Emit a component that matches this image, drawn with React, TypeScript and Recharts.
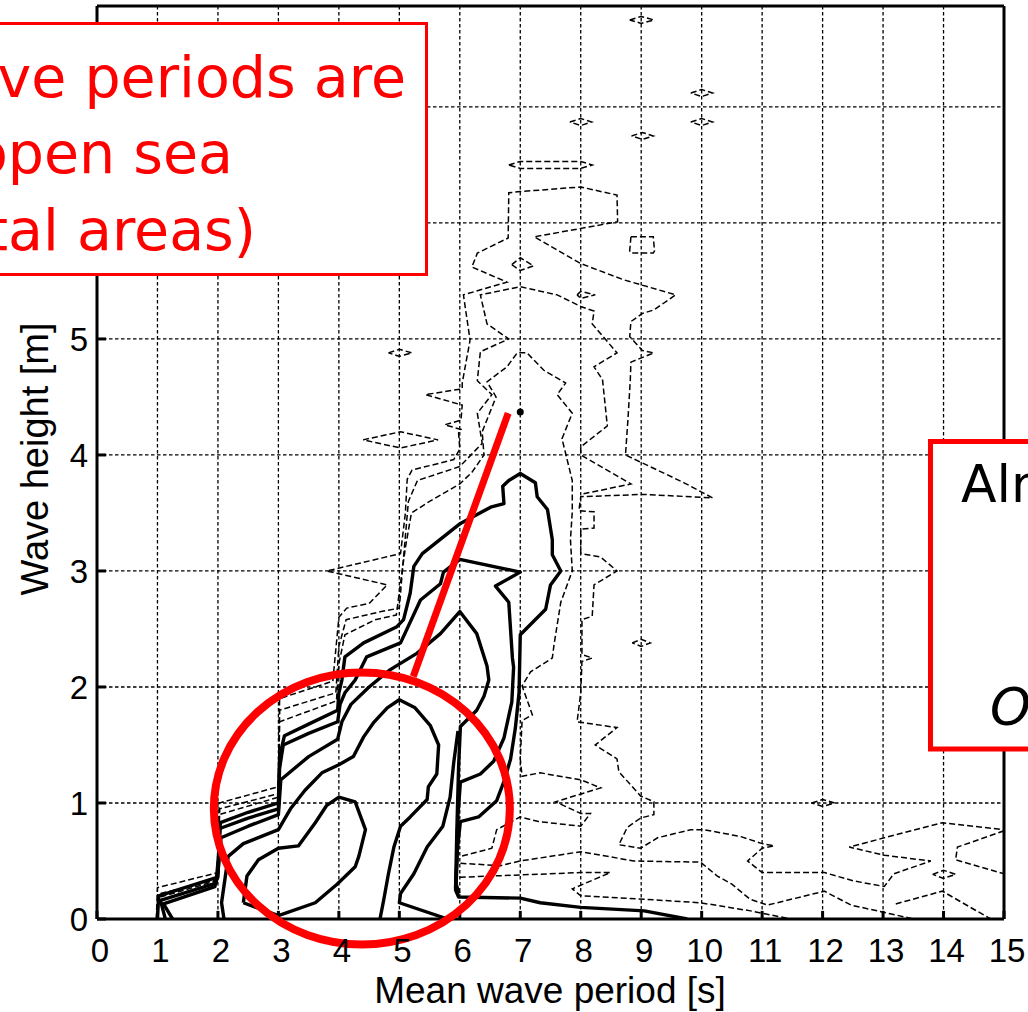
import React from "react";
import {
  LineChart,
  Line,
  XAxis,
  YAxis,
  CartesianGrid,
  ReferenceLine,
  ReferenceDot,
} from "recharts";

type Pt = [number, number];

// axis setup
const periodTicks = [0, 1, 2, 3, 4, 5, 6, 7, 8, 9, 10, 11, 12, 13, 14, 15];
const heightTicks = [0, 1, 2, 3, 4, 5, 6, 7];
const labelledHeights = [0, 1, 2, 3, 4, 5];
const periodMax = 15;
const heightMax = 7.87;

// solid contours (higher occurrence levels)
const solidCore: Pt[] = [
  [2.42, 0.14], [2.48, 0.37], [2.67, 0.51], [3.0, 0.61], [3.33, 0.63], [3.61, 0.83],
  [3.8, 0.98], [4.0, 1.05], [4.27, 1.01], [4.44, 0.77], [4.33, 0.54], [4.27, 0.45],
  [3.97, 0.3], [3.61, 0.14], [3.0, 0.03], [2.42, 0.14],
];
const solidPeak5: Pt[] = [
  [2.1, 0.0], [2.06, 0.14], [2.17, 0.54], [2.42, 0.65], [3.0, 0.77], [3.2, 0.95],
  [3.44, 1.11], [3.72, 1.26], [4.0, 1.33], [4.24, 1.4], [4.41, 1.57], [4.57, 1.69],
  [4.8, 1.82], [5.0, 1.89], [5.26, 1.82], [5.51, 1.67], [5.65, 1.5], [5.62, 1.25],
  [5.48, 1.14], [5.46, 1.03], [5.18, 0.88], [5.02, 0.8], [4.91, 0.62], [4.82, 0.39],
  [4.74, 0.16], [4.68, 0.0],
];
const solidBranch: Pt[] = [
  [5.8, 0.0], [5.0, 0.14], [5.02, 0.22], [5.24, 0.39], [5.46, 0.62], [5.72, 0.8],
  [5.84, 1.05], [5.9, 1.35], [5.97, 1.62],
];
const solidPeak6: Pt[] = [
  [1.25, 0.0], [1.1, 0.13], [1.95, 0.28], [2.0, 0.4], [2.05, 0.7], [2.5, 0.8],
  [3.0, 0.9], [3.04, 1.2], [3.5, 1.4], [3.98, 1.55], [4.05, 1.7], [4.2, 1.85],
  [4.5, 2.0], [4.85, 2.15], [5.29, 2.29], [5.68, 2.46], [6.0, 2.65], [6.28, 2.46],
  [6.45, 2.18], [6.48, 2.06], [6.4, 1.92], [6.28, 1.8], [6.01, 1.66], [5.98, 1.31],
  [5.95, 0.74], [5.93, 0.25], [5.98, 0.19], [7.0, 0.18], [7.33, 0.14], [8.0, 0.1],
  [9.05, 0.07], [9.76, 0.0],
];
const solidNotch: Pt[] = [
  [1.13, 0.0], [1.05, 0.16], [1.97, 0.31], [2.01, 0.55], [2.03, 0.78], [2.5, 0.87],
  [3.0, 0.95], [3.02, 1.3], [3.08, 1.5], [3.5, 1.6], [3.98, 1.7], [4.02, 1.85],
  [4.1, 1.95], [4.27, 2.06], [4.46, 2.26], [5.02, 2.38], [5.35, 2.75], [5.68, 2.89],
  [5.73, 2.99], [6.0, 3.1], [7.0, 2.99], [6.59, 2.87], [6.81, 2.73], [6.87, 2.25],
  [6.89, 2.17], [6.86, 1.87], [6.73, 1.56], [6.56, 1.36], [6.34, 1.25], [6.01, 1.18],
  [5.97, 0.9], [5.95, 0.5], [5.93, 0.27],
];
const solidOuter: Pt[] = [
  [1.0, 0.0], [1.02, 0.2], [2.0, 0.36], [2.02, 0.6], [2.04, 0.83], [2.5, 0.92],
  [3.0, 1.0], [3.02, 1.4], [3.1, 1.58], [3.5, 1.68], [3.98, 1.8], [4.0, 1.95],
  [4.05, 2.06], [4.1, 2.26], [4.41, 2.38], [4.96, 2.52], [5.07, 2.58], [5.18, 2.81],
  [5.24, 3.04], [5.38, 3.15], [6.01, 3.41], [6.51, 3.55], [6.73, 3.58], [6.71, 3.73],
  [6.81, 3.78], [7.0, 3.84], [7.25, 3.76], [7.28, 3.64], [7.45, 3.53], [7.53, 3.27],
  [7.53, 3.14], [7.67, 3.0], [7.5, 2.88], [7.42, 2.67], [7.0, 2.45], [6.98, 1.95],
  [6.92, 1.65], [6.84, 1.38], [6.74, 1.2], [6.61, 1.02], [6.31, 0.88], [6.01, 0.84],
  [5.96, 0.6], [5.94, 0.3], [5.99, 0.22],
];

// dashed contours (lower occurrence levels)
const dashedInner: Pt[] = [
  [1.05, 0.19], [1.98, 0.33], [2.02, 0.9], [3.0, 1.05], [3.02, 1.7], [3.96, 1.88],
  [4.0, 2.2], [4.1, 2.45], [4.6, 2.58], [4.95, 2.62], [5.02, 2.9], [5.1, 3.2],
  [5.2, 3.5], [5.5, 3.6], [6.0, 3.75], [6.2, 3.85], [6.4, 4.0], [6.37, 4.2],
  [6.6, 4.5], [6.45, 4.63], [6.78, 4.76], [6.95, 4.88], [7.11, 4.88], [7.39, 4.73],
  [7.75, 4.62], [7.61, 4.52], [7.86, 4.36], [7.69, 4.14], [7.86, 3.78], [7.86, 3.51],
  [7.83, 3.27], [7.86, 3.0], [7.67, 2.73], [7.56, 2.37], [7.53, 2.25], [7.17, 2.13],
  [7.03, 2.01], [7.2, 1.76], [7.03, 1.71], [7.0, 1.38], [7.03, 1.23], [7.33, 1.26],
  [8.0, 1.2], [8.33, 1.13], [7.58, 1.01], [8.0, 0.91], [8.16, 0.91], [8.0, 0.8],
  [7.3, 0.84], [7.0, 0.88], [6.61, 0.77], [6.53, 0.61], [6.01, 0.54],
];
const dashedMiddle: Pt[] = [
  [1.05, 0.22], [2.0, 0.34], [2.03, 0.95], [3.0, 1.08], [3.02, 1.8], [3.95, 1.95],
  [4.0, 2.35], [4.12, 2.58], [4.7, 2.65], [5.0, 2.68], [5.05, 3.0], [5.1, 3.3],
  [5.15, 3.6], [5.3, 3.78], [6.0, 3.9], [6.37, 4.1], [6.29, 4.36], [6.53, 4.52],
  [6.29, 4.64], [6.34, 4.89], [6.81, 5.0], [6.45, 5.13], [6.34, 5.38], [7.0, 5.45],
  [7.61, 5.38], [8.0, 5.28], [8.22, 5.24], [8.19, 5.13], [8.6, 4.88], [8.22, 4.76],
  [8.36, 4.65], [8.44, 4.25], [8.0, 4.07], [8.0, 4.0], [8.83, 3.75], [8.0, 3.66],
];
const dashedOuter: Pt[] = [
  [0.98, 0.0], [1.0, 0.27], [2.0, 0.4], [2.02, 1.0], [3.0, 1.14], [3.02, 1.9],
  [3.9, 2.05], [4.0, 2.6], [4.13, 2.68], [4.5, 2.72], [4.8, 2.88], [3.8, 3.0],
  [5.02, 3.15], [5.1, 3.5], [5.13, 3.79], [5.21, 3.87], [5.9, 3.96], [6.0, 4.05],
  [5.98, 4.19], [6.02, 4.22], [5.75, 4.26], [6.02, 4.3], [6.04, 4.43], [5.43, 4.52],
  [6.04, 4.57], [6.04, 4.62], [6.17, 4.99], [6.06, 5.38], [6.78, 5.49], [6.2, 5.62],
  [6.29, 5.74], [6.8, 5.87], [6.81, 6.26], [7.0, 6.27], [8.0, 6.31], [8.6, 6.24],
  [8.61, 6.01], [7.23, 5.88], [8.0, 5.65], [8.71, 5.51], [9.57, 5.38], [9.21, 5.25],
  [9.02, 5.22], [8.83, 5.15], [8.81, 5.02], [9.02, 4.9], [9.21, 4.88], [8.83, 4.8],
  [8.82, 4.65], [8.78, 4.3], [8.74, 4.0], [9.71, 3.76], [10.18, 3.63], [9.04, 3.66],
  [8.0, 3.64], [7.97, 3.52], [8.22, 3.51], [8.22, 3.37], [8.0, 3.36], [8.0, 3.15],
  [8.33, 3.12], [8.6, 3.0], [8.22, 2.88], [8.19, 2.61], [8.02, 2.58], [8.02, 2.28],
  [8.19, 2.25], [8.02, 2.22], [8.0, 1.95], [7.94, 1.7], [8.6, 1.65], [8.24, 1.5],
  [8.6, 1.38], [8.63, 1.27], [8.99, 1.06], [9.21, 1.01], [9.21, 0.9], [8.99, 0.87],
  [8.77, 0.79], [8.63, 0.64], [8.99, 0.61], [9.27, 0.7], [9.82, 0.77], [10.04, 0.77],
  [10.65, 0.71], [11.0, 0.65], [11.2, 0.63], [11.0, 0.61], [10.76, 0.5], [11.0, 0.4],
  [12.03, 0.4], [12.5, 0.33], [13.02, 0.28], [13.18, 0.39], [13.79, 0.5], [13.02, 0.55],
  [12.44, 0.62], [13.02, 0.7], [13.98, 0.83], [15.0, 0.77],
];
const dashedLow: Pt[] = [
  [6.01, 0.48], [6.67, 0.46], [7.0, 0.5], [8.0, 0.58], [8.88, 0.5], [9.98, 0.49],
  [10.26, 0.37], [10.5, 0.3], [10.8, 0.17], [11.09, 0.12], [12.03, 0.24], [12.47, 0.12],
  [13.51, 0.0],
];
const dashedFloor: Pt[] = [
  [6.0, 0.36], [7.0, 0.38], [8.0, 0.4], [8.49, 0.4], [7.86, 0.26], [8.0, 0.2],
  [9.05, 0.17], [9.98, 0.14], [10.81, 0.07], [11.47, 0.0],
];
const dashedEdge: Pt[] = [[15.0, 0.76], [14.23, 0.62], [14.2, 0.51], [15.0, 0.39]];
const dashedCorner: Pt[] = [[13.21, 0.13], [13.98, 0.24], [14.78, 0.0]];

// small closed dashed islands
const islands: Pt[][] = [
  [[8.81, 7.75], [9.0, 7.78], [9.21, 7.75], [9.0, 7.72], [8.81, 7.75]],
  [[9.82, 7.12], [10.0, 7.15], [10.18, 7.12], [10.0, 7.09], [9.82, 7.12]],
  [[9.82, 6.87], [10.0, 6.9], [10.18, 6.87], [10.0, 6.84], [9.82, 6.87]],
  [[7.82, 6.87], [8.0, 6.9], [8.18, 6.87], [8.0, 6.84], [7.82, 6.87]],
  [[8.84, 6.75], [9.02, 6.78], [9.2, 6.75], [9.02, 6.72], [8.84, 6.75]],
  [[6.81, 6.5], [7.0, 6.53], [8.0, 6.53], [8.19, 6.5], [8.0, 6.47], [7.0, 6.47], [6.81, 6.5]],
  [[8.83, 5.88], [9.2, 5.88], [9.22, 5.76], [9.2, 5.74], [8.83, 5.74], [8.81, 5.76], [8.83, 5.88]],
  [[6.86, 5.64], [7.0, 5.7], [7.22, 5.63], [7.0, 5.59], [6.86, 5.64]],
  [[7.94, 5.38], [8.0, 5.41], [8.24, 5.38], [8.0, 5.35], [7.94, 5.38]],
  [[4.82, 4.88], [5.0, 4.91], [5.21, 4.88], [5.0, 4.85], [4.82, 4.88]],
  [[4.4, 4.13], [5.02, 4.2], [5.64, 4.13], [5.02, 4.06], [4.4, 4.13]],
  [[8.85, 2.38], [9.0, 2.41], [9.15, 2.38], [9.0, 2.35], [8.85, 2.38]],
  [[11.82, 1.0], [12.0, 1.03], [12.2, 1.0], [12.0, 0.97], [11.82, 1.0]],
  [[13.82, 0.385], [14.0, 0.42], [14.2, 0.385], [14.0, 0.35], [13.82, 0.385]],
];

const solidContours = [solidCore, solidPeak5, solidBranch, solidPeak6, solidNotch, solidOuter];
const dashedContours = [dashedInner, dashedMiddle, dashedOuter, dashedLow, dashedFloor, dashedEdge, dashedCorner, ...islands];

// isolated peak cell and the highlighted region
const peakCell = { x: 7.0, y: 4.37 };
const focusCenter = { x: 4.38, y: 0.953 };
const pointerFrom = { x: 5.23, y: 2.09 };
const pointerTo = { x: 6.8, y: 4.36 };

const toRows = (pts: Pt[]) => pts.map(([x, y]) => ({ x, y }));

const axisFont = "'Liberation Sans', Arial, Helvetica, sans-serif";
const noteFont = "'DejaVu Sans', Verdana, sans-serif";

const XTick = (props: any) => {
  const { x, y, payload } = props;
  return (
    <text x={x + 3} y={y + 43} textAnchor="middle" fontFamily={axisFont} fontSize={33} fill="#000">
      {payload.value}
    </text>
  );
};

// heights 6 and 7 sit under the callout box, so only the lower ones get a label
const YTick = (props: any) => {
  const { x, y, payload } = props;
  if (!labelledHeights.includes(payload.value)) return <g />;
  return (
    <text x={x - 9} y={y + 12} textAnchor="end" fontFamily={axisFont} fontSize={33} fill="#000">
      {payload.value}
    </text>
  );
};

export default function App() {
  return (
    <div style={{ position: "relative", width: 1028, height: 1012, overflow: "hidden", background: "#fff" }}>
      <style>{`html,body{margin:0;padding:0;overflow:hidden;background:#fff}`}</style>
      <LineChart width={1028} height={1012} margin={{ top: 6, right: 24, bottom: 0, left: 0 }}>
        <CartesianGrid stroke="#000" strokeWidth={1.3} strokeDasharray="3.5 2.5" />
        <XAxis
          type="number"
          dataKey="x"
          domain={[0, periodMax]}
          ticks={periodTicks}
          interval={0}
          allowDataOverflow
          height={93}
          tickSize={0}
          tickMargin={0}
          tickLine={false}
          axisLine={{ stroke: "#000", strokeWidth: 3 }}
          tick={XTick}
        />
        <YAxis
          type="number"
          domain={[0, heightMax]}
          ticks={heightTicks}
          interval={0}
          allowDataOverflow
          width={97}
          tickSize={0}
          tickMargin={0}
          tickLine={false}
          axisLine={{ stroke: "#000", strokeWidth: 3 }}
          tick={YTick}
        />
        {dashedContours.map((pts, i) => (
          <Line
            key={`d${i}`}
            data={toRows(pts)}
            dataKey="y"
            type="linear"
            stroke="#000"
            strokeWidth={1.5}
            strokeDasharray="6 3"
            dot={false}
            activeDot={false}
            legendType="none"
            isAnimationActive={false}
          />
        ))}
        {solidContours.map((pts, i) => (
          <Line
            key={`s${i}`}
            data={toRows(pts)}
            dataKey="y"
            type="linear"
            stroke="#000"
            strokeWidth={3.4}
            strokeLinejoin="round"
            dot={false}
            activeDot={false}
            legendType="none"
            isAnimationActive={false}
          />
        ))}
        {periodTicks.map((t) => (
          <ReferenceLine key={`bx${t}`} segment={[{ x: t, y: 0 }, { x: t, y: 0.07 }]} stroke="#000" strokeWidth={3} />
        ))}
        {heightTicks.map((t) => (
          <ReferenceLine key={`ly${t}`} segment={[{ x: 0, y: t }, { x: 0.15, y: t }]} stroke="#000" strokeWidth={3} />
        ))}
        <ReferenceLine y={heightMax} stroke="#000" strokeWidth={3} />
        <ReferenceLine x={periodMax} stroke="#000" strokeWidth={3} />
        <ReferenceDot x={peakCell.x} y={peakCell.y} r={3.5} fill="#000" stroke="none" />
        <ReferenceLine
          segment={[pointerFrom, pointerTo]}
          stroke="#ff0000"
          strokeWidth={7}
          ifOverflow="visible"
        />
        <ReferenceDot
          x={focusCenter.x}
          y={focusCenter.y}
          ifOverflow="visible"
          shape={(p: any) => (
            <ellipse cx={p.cx} cy={p.cy} rx={148} ry={136} fill="none" stroke="#ff0000" strokeWidth={8} />
          )}
        />
      </LineChart>
      <svg width={1028} height={1012} style={{ position: "absolute", left: 0, top: 0, pointerEvents: "none" }}>
        <text x={550} y={1003} textAnchor="middle" fontFamily={axisFont} fontSize={37} fill="#000">
          Mean wave period [s]
        </text>
        <text transform="translate(48,459) rotate(-90)" textAnchor="middle" fontFamily={axisFont} fontSize={38} fill="#000">
          Wave height [m]
        </text>
        <rect x={-10} y={23.5} width={436.5} height={251} fill="#fff" stroke="#ff0000" strokeWidth={3} />
        <g fontFamily={noteFont} fontSize={57} fill="#ff0000" textAnchor="end">
          <text x={406} y={97}>ve periods are</text>
          <text x={233} y={173}>open sea</text>
          <text x={256} y={250}>tal areas)</text>
        </g>
        <rect x={930.5} y={441.5} width={120} height={307.5} fill="#fff" stroke="#ff0000" strokeWidth={5} />
        <text x={961} y={502} fontFamily={noteFont} fontSize={52} fill="#000">Alm</text>
        <text x={990} y={725} fontFamily={noteFont} fontSize={52} fontStyle="italic" fill="#000">O</text>
      </svg>
    </div>
  );
}
